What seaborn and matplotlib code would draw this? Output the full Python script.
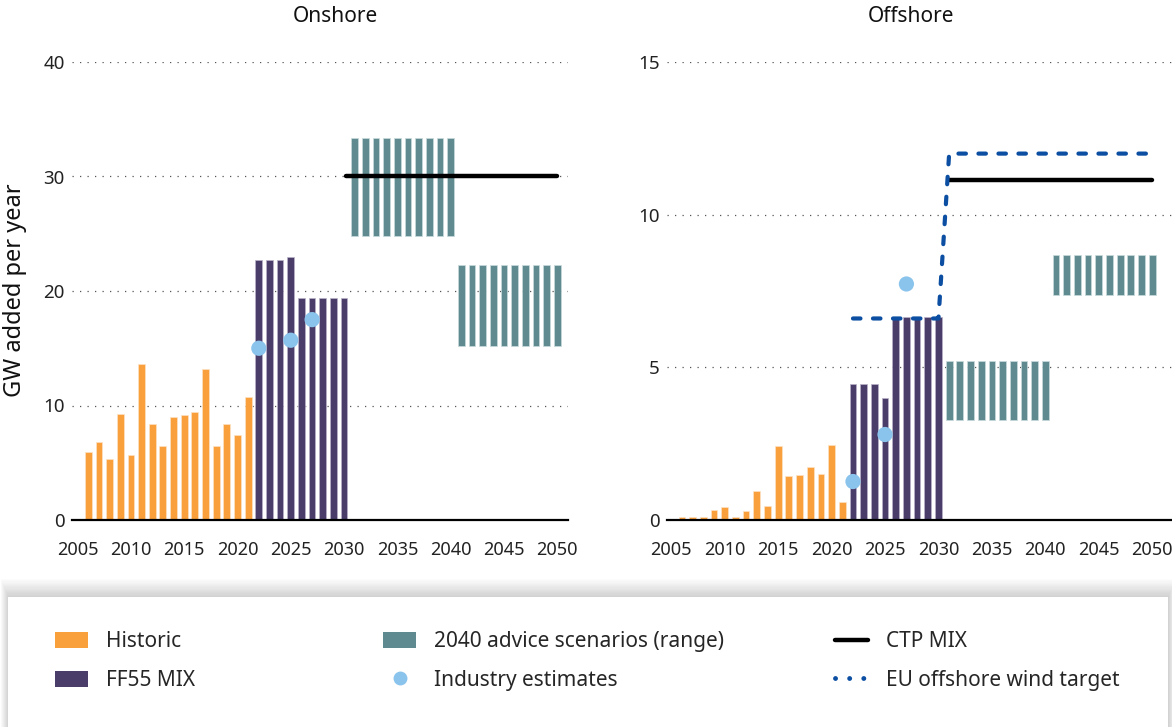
import matplotlib.pyplot as plt
import seaborn as sns
from matplotlib.patches import Rectangle, Patch
from matplotlib.lines import Line2D

# ---- data ----
hist_years = [2006, 2007, 2008, 2009, 2010, 2011, 2012, 2013,
              2014, 2015, 2016, 2017, 2018, 2019, 2020, 2021]
ff55_years = [2022, 2023, 2024, 2025, 2026, 2027, 2028, 2029, 2030]
range_years_a = [2031, 2032, 2033, 2034, 2035, 2036, 2037, 2038, 2039, 2040]
range_years_b = [2041, 2042, 2043, 2044, 2045, 2046, 2047, 2048, 2049, 2050]
industry_years = [2022, 2025, 2027]
x_ticks = [2005, 2010, 2015, 2020, 2025, 2030, 2035, 2040, 2045, 2050]

onshore_hist = [5.9, 6.8, 5.3, 9.3, 5.7, 13.6, 8.4, 6.5,
                9.0, 9.2, 9.4, 13.2, 6.5, 8.4, 7.4, 10.7]
onshore_ff55 = [22.7, 22.7, 22.7, 23.0, 19.4, 19.4, 19.4, 19.4, 19.4]
onshore_industry = [15.0, 15.7, 17.5]
onshore_range_a = (24.8, 33.4)   # low, high
onshore_range_b = (15.2, 22.3)
onshore_ctp_years = [2030.2, 2050]
onshore_ctp = [30.0, 30.0]
onshore_yticks = [0, 10, 20, 30, 40]

offshore_hist = [0.1, 0.1, 0.1, 0.33, 0.41, 0.1, 0.31, 0.95,
                 0.47, 2.41, 1.45, 1.47, 1.72, 1.52, 2.46, 0.59]
offshore_ff55 = [4.45, 4.45, 4.45, 3.99, 6.64, 6.64, 6.64, 6.64, 6.64]
offshore_industry = [1.26, 2.8, 7.73]
offshore_range_a = (3.28, 5.21)
offshore_range_b = (7.37, 8.67)
offshore_ctp_years = [2031, 2050]
offshore_ctp = [11.15, 11.15]
offshore_yticks = [0, 5, 10, 15]

eu_target_years = [2022, 2030, 2031, 2050]
eu_target = [6.6, 6.6, 12.0, 12.0]

ORANGE = '#F9A03C'
PURPLE = '#4A3D6A'
TEAL = '#5E8A90'
LIGHTBLUE = '#8AC4EC'
BLUE = '#0B4EA2'

sns.set_theme(style='white')
plt.rcParams['font.family'] = ['Noto Sans', 'DejaVu Sans']

W, H = 1172, 727
fig = plt.figure(figsize=(W / 100, H / 100), dpi=100)
fig.patch.set_facecolor('white')


def px_axes(x0, x1, y_top, y_bot):
    return fig.add_axes([x0 / W, 1 - y_bot / H, (x1 - x0) / W, (y_bot - y_top) / H])


def range_bars(ax, years, rng):
    low, high = rng
    sns.barplot(x=years, y=[high - low for _ in years], bottom=[low for _ in years],
                native_scale=True, width=0.63, color=TEAL, saturation=1,
                edgecolor='#c9dadc', linewidth=0.5, errorbar=None, ax=ax)


def draw_panel(ax, hist, ff55, industry, rng_a, rng_b, ctp_x, ctp_y, yticks, xlim):
    sns.barplot(x=hist_years, y=hist, native_scale=True, width=0.63, color=ORANGE,
                saturation=1, edgecolor='#fde3c4', linewidth=0.5, errorbar=None, ax=ax)
    sns.barplot(x=ff55_years, y=ff55, native_scale=True, width=0.63, color=PURPLE,
                saturation=1, edgecolor='#b9b2c9', linewidth=0.5, errorbar=None, ax=ax)
    range_bars(ax, range_years_a, rng_a)
    range_bars(ax, range_years_b, rng_b)
    sns.lineplot(x=ctp_x, y=ctp_y, color='black', lw=3.2, solid_capstyle='round',
                 ax=ax, zorder=4)
    sns.scatterplot(x=industry_years, y=industry, color=LIGHTBLUE, s=120,
                    edgecolor='none', ax=ax, zorder=5, legend=False)

    ax.set_xlim(*xlim)
    ax.set_ylim(0, yticks[-1])
    ax.set_xticks(x_ticks)
    ax.set_yticks(yticks)
    ax.set_xlabel('')
    ax.set_ylabel('')
    ax.set_facecolor('none')
    ax.yaxis.grid(True, linestyle=(0, (1, 5)), color='#555555', lw=0.9)
    ax.xaxis.grid(False)
    ax.set_axisbelow(True)
    for side in ['top', 'right', 'left']:
        ax.spines[side].set_visible(False)
    ax.spines['bottom'].set_color('black')
    ax.spines['bottom'].set_linewidth(1.6)
    ax.tick_params(axis='x', length=0, labelsize=13, labelcolor='#222222', pad=15)
    ax.tick_params(axis='y', length=0, labelsize=13.5, labelcolor='#222222', pad=5)


ax1 = px_axes(71.7, 568, 62, 520)
draw_panel(ax1, onshore_hist, onshore_ff55, onshore_industry, onshore_range_a,
           onshore_range_b, onshore_ctp_years, onshore_ctp, onshore_yticks,
           (2004.45, 2051.0))

ax2 = px_axes(667, 1172, 62, 520)
draw_panel(ax2, offshore_hist, offshore_ff55, offshore_industry, offshore_range_a,
           offshore_range_b, offshore_ctp_years, offshore_ctp, offshore_yticks,
           (2004.6, 2051.85))
sns.lineplot(x=eu_target_years, y=eu_target, color=BLUE, lw=3,
             linestyle=(0, (1.8, 3.0)), dash_capstyle='round', ax=ax2, zorder=6)
ax2.set_xlabel('')
ax2.set_ylabel('')

# titles and y label
fig.text(335 / W, 1 - 16 / H, 'Onshore', ha='center', va='center', fontsize=15, color='#111111')
fig.text(911 / W, 1 - 16 / H, 'Offshore', ha='center', va='center', fontsize=15, color='#111111')
fig.text(15 / W, 1 - 290 / H, 'GW added per year', rotation=90, ha='center', va='center',
         fontsize=17, color='#111111')

# legend box with a soft shadow
box_x0, box_x1, box_top = 8, 1168, 597
for k in range(16):
    fig.patches.append(Rectangle(((box_x0 - k * 0.5) / W, 0), (box_x1 - box_x0 + k) / W,
                                 (H - box_top + k * 1.2) / H, transform=fig.transFigure,
                                 facecolor='#000000', alpha=0.013, edgecolor='none', zorder=1))
fig.patches.append(Rectangle((box_x0 / W, 0), (box_x1 - box_x0) / W, (H - box_top) / H,
                             transform=fig.transFigure, facecolor='white',
                             edgecolor='none', zorder=2))

leg_kw = dict(loc='center left', frameon=False, fontsize=15, handlelength=1.6,
              handleheight=0.8, handletextpad=0.85, labelspacing=0.85,
              borderpad=0, borderaxespad=0)
y_leg = 1 - 661 / H
fig.legend(handles=[Patch(facecolor=ORANGE, edgecolor='none'),
                    Patch(facecolor=PURPLE, edgecolor='none')],
           labels=['Historic', 'FF55 MIX'], bbox_to_anchor=(55 / W, y_leg), **leg_kw)
fig.legend(handles=[Patch(facecolor=TEAL, edgecolor='none'),
                    Line2D([], [], ls='none', marker='o', markersize=10,
                           color=LIGHTBLUE, markeredgecolor='none')],
           labels=['2040 advice scenarios (range)', 'Industry estimates'],
           bbox_to_anchor=(383 / W, y_leg), **leg_kw)
fig.legend(handles=[Line2D([], [], color='black', lw=3.2, solid_capstyle='round'),
                    Line2D([], [], color=BLUE, lw=3.5, linestyle=(0, (0.01, 2.9)),
                           dash_capstyle='round')],
           labels=['CTP MIX', 'EU offshore wind target'],
           bbox_to_anchor=(835 / W, y_leg), **leg_kw)

fig.savefig('out.png', dpi=100)
